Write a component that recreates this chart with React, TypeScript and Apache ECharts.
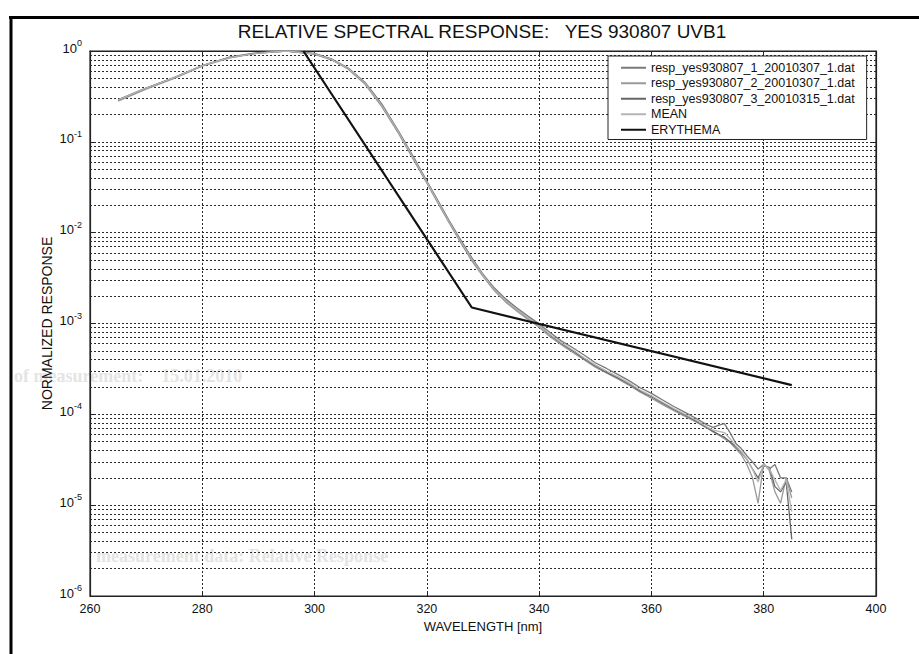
import React, { useEffect, useRef } from "react";
import * as echarts from "echarts";

// Wavelength sampling (nm) shared by the three measured responses and their mean
const wavelength = [
  265, 270, 275, 280, 285, 290, 295, 300, 303, 306, 309, 312, 315, 318,
  320, 322, 324, 326, 328, 330, 332, 334, 336, 338, 340, 342, 344, 346, 348,
  350, 352, 354, 356, 358, 360, 362, 364, 366, 368,
  370, 371, 372, 373, 374, 375, 376, 377, 378, 379, 380, 381, 382, 383, 384, 385,
];

const resp1 = [
  0.29, 0.39, 0.51, 0.69, 0.85, 0.95, 1.0,
  0.94, 0.82, 0.65, 0.45, 0.26, 0.13, 0.062,
  0.037, 0.0224, 0.0135, 0.0084, 0.0053, 0.0035, 0.00247, 0.00187, 0.00149, 0.00121, 0.00099,
  0.00079, 0.00064, 0.00054, 0.00045, 0.00037, 0.00032, 0.000275, 0.000235, 0.000196,
  0.00017, 0.000144, 0.000122, 0.000105, 0.00009,
  7.6e-5, 7.2e-5, 7.6e-5, 7.9e-5, 6.3e-5, 4.8e-5, 4.2e-5, 3.5e-5, 3.0e-5, 2.5e-5,
  2.8e-5, 2.5e-5, 2.8e-5, 2.0e-5, 2.0e-5, 1.4e-5,
];

const resp2 = [
  0.28, 0.38, 0.5, 0.68, 0.84, 0.95, 1.0,
  0.92, 0.8, 0.63, 0.43, 0.243, 0.122, 0.058,
  0.035, 0.021, 0.0127, 0.0078, 0.0049, 0.0033, 0.0023, 0.00173, 0.00137, 0.00111, 0.00091,
  0.00071, 0.00058, 0.00048, 0.0004, 0.00033, 0.000285, 0.000245, 0.00021, 0.000175,
  0.000151, 0.000128, 0.00011, 0.000095, 0.000082,
  7.0e-5, 6.4e-5, 5.9e-5, 5.4e-5, 4.9e-5, 4.2e-5, 3.6e-5, 2.8e-5, 2.0e-5, 1.05e-5,
  2.9e-5, 2.4e-5, 1.4e-5, 1.05e-5, 2.0e-5, 1.2e-5,
];

const resp3 = [
  0.29, 0.39, 0.51, 0.69, 0.86, 0.96, 1.0,
  0.93, 0.81, 0.64, 0.44, 0.25, 0.126, 0.06,
  0.036, 0.0217, 0.0131, 0.0081, 0.0051, 0.0034, 0.00238, 0.0018, 0.00143, 0.00116, 0.00095,
  0.00074, 0.0006, 0.0005, 0.00041, 0.00034, 0.00029, 0.000252, 0.000216, 0.00018,
  0.000156, 0.000133, 0.000113, 0.000098, 0.000084,
  7.1e-5, 6.5e-5, 6.0e-5, 5.6e-5, 5.0e-5, 4.4e-5, 3.8e-5, 3.2e-5, 2.5e-5, 2.0e-5,
  2.7e-5, 2.6e-5, 1.6e-5, 1.4e-5, 1.8e-5, 4.2e-6,
];

const meanResp = [
  0.29, 0.39, 0.51, 0.69, 0.85, 0.95, 1.0,
  0.93, 0.81, 0.64, 0.44, 0.25, 0.126, 0.06,
  0.036, 0.0217, 0.0131, 0.0081, 0.0051, 0.0034, 0.00238, 0.0018, 0.00143, 0.00116, 0.00095,
  0.00075, 0.00061, 0.00051, 0.00042, 0.00035, 0.0003, 0.00026, 0.000222, 0.000185,
  0.00016, 0.000136, 0.000116, 0.0001, 0.000086,
  7.2e-5, 6.7e-5, 6.5e-5, 6.3e-5, 5.4e-5, 4.5e-5, 3.9e-5, 3.2e-5, 2.5e-5, 1.8e-5,
  2.8e-5, 2.5e-5, 1.9e-5, 1.45e-5, 1.9e-5, 8.5e-6,
];

// Erythema action spectrum: break points of the piecewise log-linear curve
const erythemaWl = [298, 328, 385];
const erythemaVal = [1.0, 1.5e-3, 2.1e-4];

const seriesNames = [
  "resp_yes930807_1_20010307_1.dat",
  "resp_yes930807_2_20010307_1.dat",
  "resp_yes930807_3_20010315_1.dat",
  "MEAN",
  "ERYTHEMA",
];
const seriesColors = ["#7a7a7a", "#9a9a9a", "#666666", "#b4b4b4", "#111111"];

const FONT = '"Liberation Sans", Arial, sans-serif';

// Minor log grid levels: 2..9 x 10^k
const minorLevels: number[] = [];
for (let k = -6; k < 0; k++) {
  for (let m = 2; m <= 9; m++) minorLevels.push(m * Math.pow(10, k));
}

const zip = (xs: number[], ys: number[]) => xs.map((x, i) => [x, ys[i]]);

const dotted = { type: [2, 2] as number[], color: "#2a2a2a", width: 1 };

export default function App() {
  const ref = useRef<HTMLDivElement>(null);

  useEffect(() => {
    if (!ref.current) return;
    const chart = echarts.init(ref.current, undefined, { renderer: "svg" });

    const respSeries = [resp1, resp2, resp3, meanResp].map((vals, i) => ({
      name: seriesNames[i],
      type: "line",
      data: zip(wavelength, vals),
      symbol: "none",
      showSymbol: false,
      lineStyle: { color: seriesColors[i], width: 1.3 },
      itemStyle: { color: seriesColors[i] },
      z: 3,
    }));

    chart.setOption({
      animation: false,
      backgroundColor: "#ffffff",
      grid: {
        left: 90,
        right: 43,
        top: 51,
        bottom: 58,
        show: true,
        borderColor: "#222",
        borderWidth: 1.2,
        backgroundColor: "transparent",
      },
      graphic: [
        {
          type: "text",
          z: -5,
          left: 14,
          top: 367,
          style: {
            text: "of measurement:    15.01.2010",
            font: 'bold 18px "Liberation Serif", serif',
            fill: "#e4e4e4",
          },
        },
        {
          type: "text",
          z: -5,
          left: 96,
          top: 547,
          style: {
            text: "measurement data: Relative Response",
            font: 'bold 18px "Liberation Serif", serif',
            fill: "#e4e4e4",
          },
        },
        {
          type: "line",
          shape: { x1: 9, y1: 17.5, x2: 919, y2: 17.5 },
          style: { stroke: "#000", lineWidth: 3 },
        },
        {
          type: "line",
          shape: { x1: 11, y1: 16, x2: 11, y2: 654 },
          style: { stroke: "#000", lineWidth: 3 },
        },
        {
          type: "text",
          x: 482,
          y: 31,
          style: {
            text: "RELATIVE SPECTRAL RESPONSE:   YES 930807 UVB1",
            font: `19px ${FONT}`,
            fill: "#111",
            textAlign: "center",
            textVerticalAlign: "middle",
          },
        },
      ],
      legend: {
        orient: "vertical",
        left: 608,
        top: 56,
        z: 10,
        data: seriesNames,
        itemWidth: 25,
        itemHeight: 10,
        itemGap: 2,
        itemTextGap: 8,
        padding: [5, 12, 3, 12],
        backgroundColor: "#fff",
        borderColor: "#222",
        borderWidth: 1,
        itemStyle: { opacity: 0 },
        textStyle: { fontFamily: FONT, fontSize: 12.5, color: "#111", lineHeight: 13.5 },
        selectedMode: false,
      },
      xAxis: [
        {
          type: "value",
          min: 260,
          max: 400,
          interval: 20,
          name: "WAVELENGTH [nm]",
          nameLocation: "middle",
          nameGap: 20,
          nameTextStyle: { fontFamily: FONT, fontSize: 13, color: "#111" },
          axisLine: { show: true, lineStyle: { color: "#222", width: 1.2 } },
          axisTick: { show: true, inside: true, length: 5, lineStyle: { color: "#222" } },
          axisLabel: { fontFamily: FONT, fontSize: 12.5, color: "#111", margin: 6 },
          splitLine: { show: true, lineStyle: dotted },
        },
        {
          type: "value",
          position: "top",
          min: 260,
          max: 400,
          interval: 20,
          axisLine: { show: true, lineStyle: { color: "#222", width: 1.2 } },
          axisTick: { show: true, inside: true, length: 5, lineStyle: { color: "#222" } },
          axisLabel: { show: false },
          splitLine: { show: false },
        },
      ],
      yAxis: [
        {
          type: "log",
          logBase: 10,
          min: 1e-6,
          max: 1,
          name: "NORMALIZED RESPONSE",
          nameLocation: "middle",
          nameGap: 36,
          nameMoveOverlap: false,
          nameRotate: 90,
          nameTextStyle: { fontFamily: FONT, fontSize: 14, color: "#111" },
          axisLine: { show: true, lineStyle: { color: "#222", width: 1.2 } },
          axisTick: { show: true, inside: true, length: 5, lineStyle: { color: "#222" } },
          splitLine: { show: true, lineStyle: dotted },
          axisLabel: {
            margin: 8,
            formatter: (v: number) => {
              const e = Math.round(Math.log10(v));
              return `{b|10}{s|${e}}`;
            },
            rich: {
              b: { fontFamily: FONT, fontSize: 13, color: "#111", padding: [0, 0, 6, 0] },
              s: { fontFamily: FONT, fontSize: 9, color: "#111", padding: [0, 0, 16, 0] },
            },
          },
        },
        {
          type: "log",
          logBase: 10,
          min: 1e-6,
          max: 1,
          position: "right",
          axisLine: { show: true, lineStyle: { color: "#222", width: 1.2 } },
          axisTick: { show: true, inside: true, length: 5, lineStyle: { color: "#222" } },
          axisLabel: { show: false },
          splitLine: { show: false },
        },
      ],
      series: [
        {
          name: "minor-grid",
          type: "lines",
          coordinateSystem: "cartesian2d",
          silent: true,
          z: 1,
          lineStyle: { ...dotted, opacity: 1 },
          data: minorLevels.map((v) => ({ coords: [[260, v], [400, v]] })),
        },
        ...respSeries,
        {
          name: "ERYTHEMA",
          type: "line",
          data: zip(erythemaWl, erythemaVal),
          symbol: "none",
          showSymbol: false,
          lineStyle: { color: seriesColors[4], width: 2.2 },
          itemStyle: { color: seriesColors[4] },
          z: 4,
        },
      ],
    });

    return () => chart.dispose();
  }, []);

  return (
    <div
      ref={ref}
      style={{ position: "fixed", left: 0, top: 0, width: 919, height: 654, background: "#fff" }}
    />
  );
}
